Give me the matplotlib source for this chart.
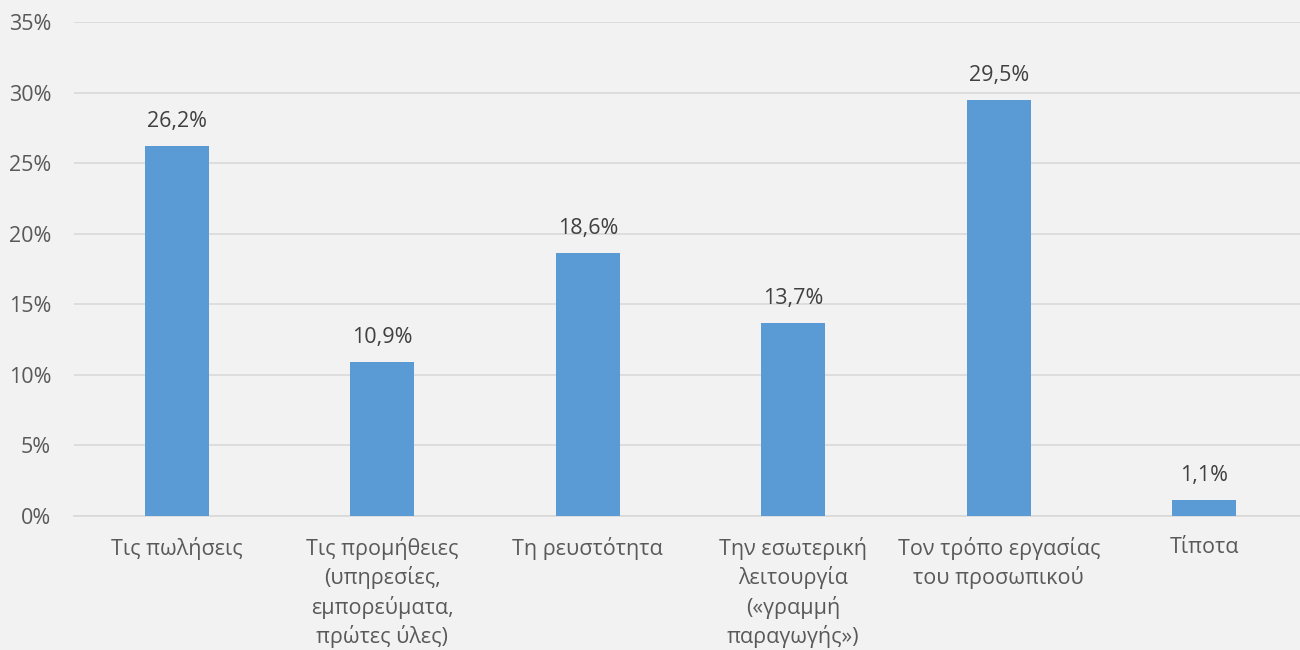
import matplotlib.pyplot as plt
from matplotlib.ticker import MultipleLocator, FuncFormatter

plt.rcParams['font.family'] = ['Open Sans', 'DejaVu Sans']

categories = [
    "Τις πωλήσεις",
    "Τις προμήθειες\n(υπηρεσίες,\nεμπορεύματα,\nπρώτες ύλες)",
    "Τη ρευστότητα",
    "Την εσωτερική\nλειτουργία\n(«γραμμή\nπαραγωγής»)",
    "Τον τρόπο εργασίας\nτου προσωπικού",
    "Τίποτα",
]
values = [26.2, 10.9, 18.6, 13.7, 29.5, 1.1]

bg = '#F2F2F2'
fig = plt.figure(figsize=(13, 6.5), dpi=100, facecolor=bg)
ax = fig.add_axes([74 / 1300, 134 / 650, 1233 / 1300, 494 / 650], facecolor=bg)

x = range(len(categories))
bars = ax.bar(x, values, width=0.31, color='#5B9BD5', zorder=3)

for b, v in zip(bars, values):
    ax.text(b.get_x() + b.get_width() / 2, v + 1.0, f"{v:.1f}%".replace('.', ','),
            ha='center', va='bottom', fontsize=15.5, color='#404040')

ax.set_xlim(-0.5, len(categories) - 0.5)
ax.set_ylim(0, 35)
ax.yaxis.set_major_locator(MultipleLocator(5))
ax.yaxis.set_major_formatter(FuncFormatter(lambda v, p: f"{v:.0f}%"))
ax.grid(axis='y', color='#D9D9D9', linewidth=1.2, zorder=0)

ax.set_xticks(list(x))
ax.set_xticklabels(categories, fontsize=15.5, color='#595959', linespacing=1.36, va='top')
ax.tick_params(axis='x', length=0, pad=15)
ax.tick_params(axis='y', length=0, pad=16.5, labelsize=15.5, labelcolor='#595959')

for s in ['top', 'right', 'left']:
    ax.spines[s].set_visible(False)
ax.spines['bottom'].set_color('#D9D9D9')
ax.spines['bottom'].set_linewidth(1.2)

fig.savefig('out.png', dpi=100, facecolor=bg)
